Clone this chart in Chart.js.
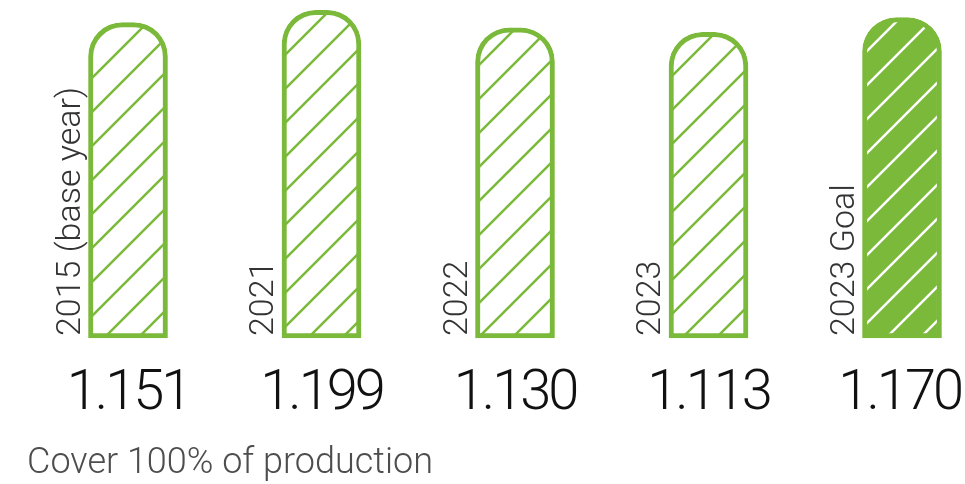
<!DOCTYPE html>
<html>
<head>
<meta charset="utf-8">
<script src="https://cdn.jsdelivr.net/npm/chart.js@4/dist/chart.umd.min.js"></script>
<style>
  body { margin: 0; background: #fff; }
  canvas { display: block; }
</style>
</head>
<body>
<canvas id="grafico" width="965" height="484"></canvas>
<script>
// datos
const categorias = ['2015 (base year)', '2021', '2022', '2023', '2023 Goal'];
const valores = [1.151, 1.199, 1.130, 1.113, 1.170];
const etiquetasValor = ['1.151', '1.199', '1.130', '1.113', '1.170'];
const esMeta = [false, false, false, false, true];
const leyenda = 'Cover 100% of production';

const verde = '#7bb93a';

// patron de rayas diagonales
function crearRayado(fondo, linea, grosor) {
    var t = 34;
    var c = document.createElement('canvas');
    c.width = t;
    c.height = t;
    var g = c.getContext('2d');
    g.fillStyle = fondo;
    g.fillRect(0, 0, t, t);
    g.strokeStyle = linea;
    g.lineWidth = grosor;
    g.beginPath();
    g.moveTo(-2, t + 2); g.lineTo(t + 2, -2);
    g.moveTo(-2, 2); g.lineTo(2, -2);
    g.moveTo(t - 2, t + 2); g.lineTo(t + 2, t - 2);
    g.stroke();
    return g.createPattern(c, 'repeat');
}

var ctx = document.getElementById('grafico').getContext('2d');
var rayaVacia = crearRayado('#ffffff', verde, 2.5);
var rayaLlena = crearRayado(verde, '#ffffff', 2.5);

// textos: etiquetas verticales, valores y leyenda
var textos = {
    id: 'textos',
    afterDatasetsDraw: function(chart) {
        var c = chart.ctx;
        var meta = chart.getDatasetMeta(0);
        c.save();
        meta.data.forEach(function(bar, i) {
            var izq = bar.x - bar.width / 2;
            c.save();
            c.translate(izq - 9, bar.base);
            c.rotate(-Math.PI / 2);
            c.fillStyle = '#333333';
            c.font = '300 34px Roboto';
            c.textAlign = 'left';
            c.textBaseline = 'alphabetic';
            c.fillText(categorias[i], 2, 0);
            c.restore();

            c.fillStyle = '#111111';
            c.font = '300 56px Roboto';
            c.letterSpacing = '-3px';
            c.textAlign = 'center';
            var ancho = c.measureText(etiquetasValor[i]).width;
            var x = Math.min(bar.x, chart.width - ancho / 2 - 4);
            c.fillText(etiquetasValor[i], x, 409);
            c.letterSpacing = '0px';
        });
        c.fillStyle = '#4d4d4d';
        c.font = '300 36px Roboto';
        c.textAlign = 'left';
        c.fillText(leyenda, 27, 473);
        c.restore();
    }
};

var myChart = new Chart(ctx, {
    type: 'bar',
    data: {
        labels: categorias,
        datasets: [{
            data: valores,
            base: -0.08,
            backgroundColor: esMeta.map(m => m ? rayaLlena : rayaVacia),
            borderColor: verde,
            borderWidth: 5,
            borderSkipped: false,
            borderRadius: { topLeft: 34, topRight: 34, bottomLeft: 0, bottomRight: 0 },
            barThickness: 79,
            clip: false
        }]
    },
    options: {
        responsive: false,
        animation: false,
        layout: { padding: { top: 10, bottom: 146, left: 128, right: 63 } },
        plugins: { legend: { display: false }, tooltip: { enabled: false } },
        scales: {
            x: { display: false, offset: false },
            y: { display: false, min: -0.08, max: 1.2 }
        }
    },
    plugins: [textos]
});
</script>
</body>
</html>
